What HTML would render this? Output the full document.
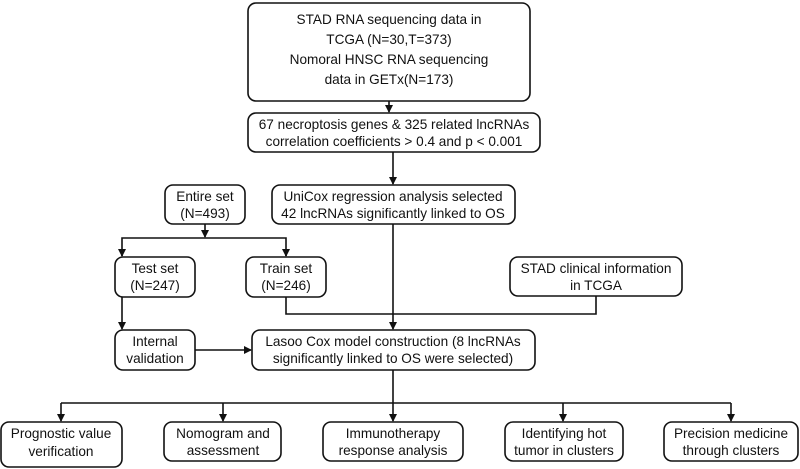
<!DOCTYPE html>
<html><head><style>body{margin:0;background:#fff}svg{display:block}text{font-family:"Liberation Sans",sans-serif;font-size:13.6px;fill:#111;text-anchor:middle}</style></head><body>
<svg width="800" height="469" viewBox="0 0 800 469" xmlns="http://www.w3.org/2000/svg">
<defs><marker id="a" markerWidth="8" markerHeight="8" refX="7" refY="4" orient="auto" markerUnits="userSpaceOnUse"><path d="M0,0 L8,4 L0,8 z" fill="#111"/></marker></defs>
<g fill="#fff" stroke="#111" stroke-width="1.6">
<rect x="248" y="3" width="282" height="98" rx="8"/>
<rect x="248" y="113" width="292" height="39" rx="8"/>
<rect x="272" y="185" width="243" height="39" rx="8"/>
<rect x="165" y="185" width="80" height="39" rx="8"/>
<rect x="246" y="257" width="80" height="40" rx="8"/>
<rect x="115" y="257" width="80" height="40" rx="8"/>
<rect x="510" y="257" width="172" height="39" rx="8"/>
<rect x="115" y="330" width="80" height="40" rx="8"/>
<rect x="252" y="330" width="283" height="40" rx="8"/>
<rect x="1" y="422" width="121" height="45" rx="8"/>
<rect x="164" y="422" width="117" height="39" rx="8"/>
<rect x="323" y="422" width="140" height="39" rx="8"/>
<rect x="505" y="422" width="118" height="39" rx="8"/>
<rect x="664" y="422" width="134" height="39" rx="8"/>
</g>
<g stroke="#111" stroke-width="1.6" fill="none">
<line x1="389" y1="101" x2="389" y2="112" marker-end="url(#a)"/>
<line x1="393" y1="152" x2="393" y2="184" marker-end="url(#a)"/>
<line x1="205" y1="224" x2="205" y2="237" marker-end="url(#a)"/>
<polyline points="122,256 122,238 286,238 286,256" />
<line x1="122" y1="250" x2="122" y2="256" marker-end="url(#a)"/>
<line x1="286" y1="250" x2="286" y2="256" marker-end="url(#a)"/>
<polyline points="286,297 286,314 596,314 596,296"/>
<line x1="393" y1="224" x2="393" y2="329" marker-end="url(#a)"/>
<line x1="122" y1="297" x2="122" y2="329" marker-end="url(#a)"/>
<line x1="195" y1="350" x2="251" y2="350" marker-end="url(#a)"/>
<line x1="393" y1="370" x2="393" y2="421" marker-end="url(#a)"/>
<line x1="61" y1="403" x2="731" y2="403"/>
<line x1="61" y1="403" x2="61" y2="421" marker-end="url(#a)"/>
<line x1="223" y1="403" x2="223" y2="421" marker-end="url(#a)"/>
<line x1="563" y1="403" x2="563" y2="421" marker-end="url(#a)"/>
<line x1="731" y1="403" x2="731" y2="421" marker-end="url(#a)"/>
</g>
<text x="389" y="24">STAD RNA sequencing data in</text>
<text x="389" y="44">TCGA (N=30,T=373)</text>
<text x="389" y="64">Nomoral HNSC RNA sequencing</text>
<text x="389" y="84">data in GETx(N=173)</text>
<text x="394" y="129">67 necroptosis genes &amp; 325 related lncRNAs</text>
<text x="394" y="146">correlation coefficients &gt; 0.4 and p &lt; 0.001</text>
<text x="393" y="201">UniCox regression analysis selected</text>
<text x="393" y="218">42 lncRNAs significantly linked to OS</text>
<text x="205" y="201">Entire set</text>
<text x="205" y="218">(N=493)</text>
<text x="286" y="273">Train set</text>
<text x="286" y="290">(N=246)</text>
<text x="155" y="273">Test set</text>
<text x="155" y="290">(N=247)</text>
<text x="596" y="273">STAD clinical information</text>
<text x="596" y="290">in TCGA</text>
<text x="155" y="346">Internal</text>
<text x="155" y="363">validation</text>
<text x="393" y="346">Lasoo Cox model construction (8 lncRNAs</text>
<text x="393" y="363">significantly linked to OS were selected)</text>
<text x="61" y="438">Prognostic value</text>
<text x="61" y="456">verification</text>
<text x="223" y="438">Nomogram and</text>
<text x="223" y="455">assessment</text>
<text x="393" y="438">Immunotherapy</text>
<text x="393" y="455">response analysis</text>
<text x="564" y="438">Identifying hot</text>
<text x="564" y="455">tumor in clusters</text>
<text x="731" y="438">Precision medicine</text>
<text x="731" y="455">through clusters</text>
</svg>
</body></html>
